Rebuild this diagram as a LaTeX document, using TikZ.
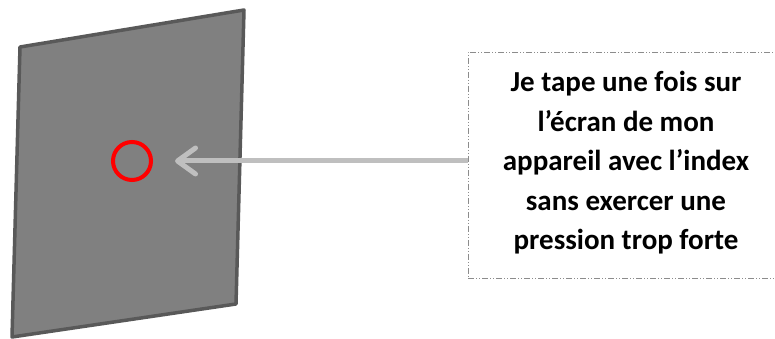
\documentclass[tikz,border=0pt]{standalone}
\usepackage{fontspec}
\setmainfont{Carlito}
\usetikzlibrary{arrows.meta}
\definecolor{screenfill}{RGB}{128,128,128}
\definecolor{screenedge}{RGB}{89,89,89}
\definecolor{arrowgray}{RGB}{191,191,191}
\definecolor{framegray}{RGB}{140,140,140}
\tikzset{
  screen/.style={fill=screenfill, draw=screenedge, line width=3.5pt, line join=round},
  touchmark/.style={circle, draw=red, line width=4pt, minimum size=38pt, inner sep=0pt},
  notebox/.style={draw=framegray, line width=0.8pt,
    dash pattern=on 6pt off 2pt on 1pt off 2pt on 1pt off 2pt,
    minimum width=332pt, minimum height=226pt},
  notetext/.style={align=center, font=\fontsize{29}{39.5}\selectfont\bfseries},
  pointer/.style={draw=arrowgray, line width=5pt, shorten >=22pt,
    -{Straight Barb[length=18pt,width=26pt,round]}}
}
\begin{document}
\begin{tikzpicture}[x=1pt,y=1pt]
        \useasboundingbox (0,0) rectangle (775,339);
        \filldraw[screen] (20,292) -- (244,329) -- (236,35) -- (12,2) -- cycle;
        \node[touchmark] (tap) at (132,178) {};

        \node[notebox] (frame) at (634,174) {};
        \node[notetext] (note) at (626,176) {Je tape une fois sur\\l’écran de mon\\appareil avec l’index\\sans exercer une\\pression trop forte};

        \draw[pointer] (frame.west |- tap.center) -- (tap.east);
    \end{tikzpicture}
\end{document}
